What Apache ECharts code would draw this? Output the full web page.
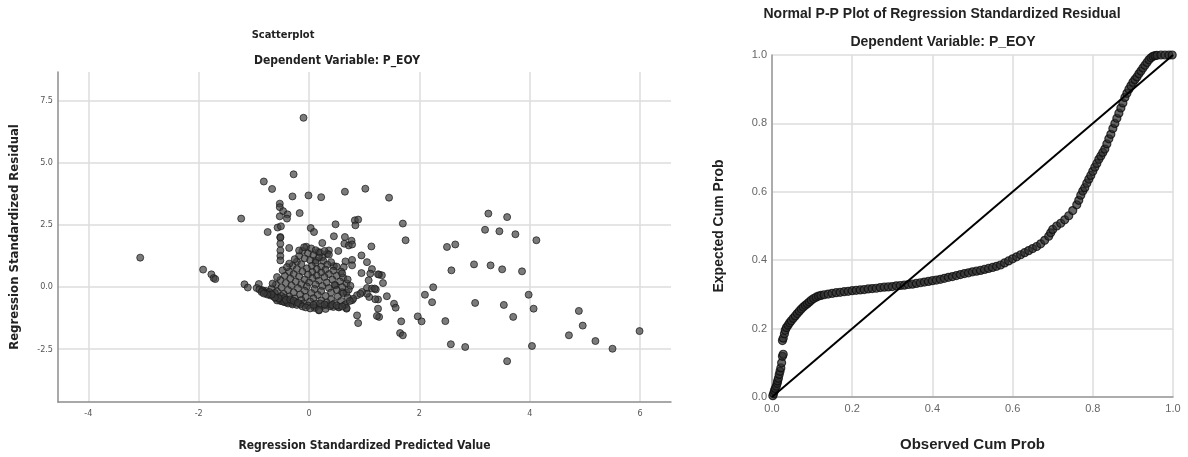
<!DOCTYPE html>
<html>
<head>
<meta charset="utf-8">
<script src="https://cdn.jsdelivr.net/npm/echarts@6/dist/echarts.min.js"></script>
<style>
  html, body { margin: 0; padding: 0; background: #fff; }
  #chart { width: 1188px; height: 457px; }
</style>
</head>
<body>
<div id="chart"></div>
<script>
// Scatterplot: [standardized predicted value, standardized residual]
const residualPoints = [
  [-3.06, 1.18], [-1.92, 0.70], [-1.77, 0.51], [-1.73, 0.36], [-1.70, 0.32],
  [-1.23, 2.75], [-1.17, 0.11], [-1.11, -0.02], [-0.91, 0.12], [-0.85, -0.13],
  [-0.10, 6.80], [-0.28, 4.53], [-0.82, 4.24], [-0.67, 3.94], [-0.30, 3.64],
  [-0.01, 3.68], [0.22, 3.61], [0.65, 3.83], [1.02, 3.95], [1.45, 3.59],
  [-0.53, 3.35], [-0.53, 3.21], [-0.47, 3.05], [-0.39, 2.92], [-0.53, 2.84],
  [-0.40, 2.75], [-0.17, 2.97], [-0.75, 2.21], [-0.57, 2.39], [-0.51, 2.44],
  [-0.52, 2.01], [0.03, 2.37], [0.09, 2.21], [0.48, 2.52], [0.83, 2.68],
  [0.89, 2.71], [0.84, 2.48], [1.70, 2.55], [1.75, 1.88], [0.45, 2.04],
  [0.65, 2.01], [0.77, 1.86], [0.64, 1.74], [0.72, 1.67], [0.78, 1.71],
  [0.24, 1.77], [0.53, 1.45], [1.13, 1.63], [0.95, 1.27], [1.05, 1.00],
  [1.14, 0.72], [1.27, 0.50], [1.34, 0.16], [1.11, 0.54], [1.08, 0.27],
  [1.05, -0.04], [1.14, -0.06], [0.66, 1.03], [0.78, 1.09], [0.63, 0.80],
  [0.78, 0.87], [0.45, 0.84], [0.95, 0.56], [0.33, 1.34], [0.24, 1.20],
  [0.12, 1.07], [0.17, 1.41], [0.36, 1.47], [-0.52, 1.98], [-0.52, 1.74],
  [-0.52, 1.47], [-0.52, 1.25], [-0.52, 1.07], [-0.36, 1.57],
  [3.25, 2.95], [3.59, 2.81], [3.19, 2.30], [3.45, 2.24], [3.74, 2.12],
  [4.12, 1.88], [2.50, 1.61], [2.65, 1.71], [2.58, 0.67], [2.99, 0.91],
  [3.29, 0.87], [3.50, 0.71], [3.86, 0.63], [1.32, 0.47], [1.41, -0.37],
  [1.54, -0.67], [1.57, -0.83], [1.67, -1.38], [1.65, -1.85], [1.70, -1.94],
  [1.97, -1.18], [2.04, -1.38], [2.10, -0.31], [2.25, -0.01], [2.23, -0.61],
  [2.47, -1.37], [2.57, -2.30], [2.83, -2.41], [3.01, -0.64], [3.53, -0.72],
  [3.70, -1.20], [3.59, -2.98], [3.98, -0.31], [4.07, -0.87], [4.04, -2.37],
  [4.89, -0.96], [4.96, -1.55], [4.71, -1.94], [5.19, -2.17], [5.50, -2.48],
  [5.99, -1.77], [0.89, -1.45], [1.21, -0.10], [1.25, -0.50], [1.25, -0.87],
  [1.27, -1.20], [1.09, -0.40], [1.05, -0.27], [1.23, -1.16], [1.20, -0.49],
  [1.19, -0.06], [1.25, 0.51], [0.87, -0.33], [0.96, -0.20], [0.78, -0.53],
  [0.80, -0.47], [0.93, -0.27], [0.12, -0.80], [0.18, -0.94], [0.32, -0.73],
  [0.44, -0.80], [0.54, -0.80], [0.64, -0.73], [0.68, -0.87], [0.48, 0.07],
  [0.60, -0.20], [0.68, -0.23], [0.87, -1.14],
  // dense cluster around the origin
  [-0.05, 1.62], [0.04, 1.55], [0.12, 1.48], [-0.12, 1.45], [0.20, 1.38],
  [0.28, 1.45], [-0.02, 1.35], [0.08, 1.28], [-0.18, 1.25], [0.36, 1.30],
  [0.18, 1.18], [-0.08, 1.15], [0.02, 1.08], [0.26, 1.05], [-0.22, 1.02],
  [0.12, 0.98], [0.40, 1.00], [-0.14, 0.92], [0.33, 0.90], [-0.30, 0.85],
  [0.05, 0.85], [0.22, 0.82], [0.50, 0.82], [-0.04, 0.75], [0.14, 0.72],
  [-0.22, 0.72], [0.30, 0.70], [0.44, 0.66], [-0.36, 0.62], [-0.12, 0.62],
  [0.06, 0.60], [0.22, 0.58], [0.58, 0.62], [-0.28, 0.52], [0.36, 0.52],
  [-0.02, 0.50], [0.14, 0.46], [-0.44, 0.45], [-0.18, 0.42], [0.50, 0.45],
  [0.28, 0.40], [0.62, 0.38], [0.06, 0.36], [-0.34, 0.34], [-0.08, 0.30],
  [0.42, 0.30], [-0.52, 0.28], [0.18, 0.26], [0.56, 0.22], [-0.24, 0.22],
  [0.32, 0.18], [-0.42, 0.16], [0.00, 0.18], [0.68, 0.15], [-0.14, 0.12],
  [0.12, 0.10], [-0.60, 0.10], [0.46, 0.08], [-0.32, 0.06], [0.24, 0.04],
  [-0.04, 0.02], [0.60, 0.00], [-0.50, -0.02], [0.36, -0.04], [-0.20, -0.05],
  [0.10, -0.08], [-0.68, -0.06], [0.50, -0.12], [-0.38, -0.12], [0.72, -0.10],
  [-0.08, -0.15], [0.22, -0.16], [-0.58, -0.18], [-0.28, -0.22], [0.04, -0.24],
  [0.40, -0.22], [-0.78, -0.16], [0.62, -0.26], [-0.46, -0.28], [-0.16, -0.30],
  [0.16, -0.32], [-0.66, -0.30], [0.30, -0.36], [-0.36, -0.38], [0.52, -0.38],
  [-0.06, -0.40], [-0.56, -0.42], [0.08, -0.45], [-0.26, -0.46], [0.70, -0.42],
  [0.40, -0.50], [-0.46, -0.50], [-0.14, -0.52], [0.22, -0.54], [-0.36, -0.56],
  [0.58, -0.56], [0.02, -0.58], [-0.52, -0.56], [-0.24, -0.60], [0.32, -0.62],
  [-0.42, -0.62], [-0.10, -0.66], [0.12, -0.68], [0.46, -0.66], [-0.30, -0.65],
  [0.66, -0.70], [-0.02, -0.74], [0.24, -0.76], [0.38, -0.78], [0.54, -0.82],
  [0.10, -0.84], [-0.16, -0.70], [0.30, -0.88], [0.68, -0.84], [0.18, -0.92],
  [-0.95, -0.04], [-0.90, -0.10], [-0.84, -0.14], [-0.80, -0.22], [-0.74, -0.26],
  [-0.70, -0.34], [-0.64, -0.38], [-0.60, -0.46], [-0.54, -0.50], [-0.48, -0.58],
  [-0.40, -0.60], [-0.33, -0.60], [-0.72, -0.20], [-0.62, -0.24], [-0.86, -0.20],
  [-0.50, -0.36], [-0.44, -0.44], [-0.58, -0.54], [-0.48, 0.67], [-0.66, 0.14],
  [-0.36, 0.94], [-0.18, 1.47], [-0.09, 1.60], [-0.40, 0.80], [-0.58, 0.40],
  [-0.26, 1.12], [0.60, 0.55], [0.70, 0.30], [0.75, 0.05], [0.74, -0.56],
  [-0.45, -0.60], [-0.38, -0.66], [-0.30, -0.70], [-0.22, -0.72], [-0.55, -0.45],
  [-0.62, -0.42], [-0.68, -0.30], [-0.76, -0.30], [-0.82, -0.26], [-0.42, -0.52],
  [-0.34, -0.50], [-0.28, -0.55], [-0.20, -0.64], [-0.12, -0.78], [-0.06, -0.82],
  [0.02, -0.86], [0.08, -0.72], [0.20, -0.66], [0.28, -0.70], [0.42, -0.72],
  [0.50, -0.74], [0.60, -0.78]
];

// Normal P-P plot points
const observedCumProb = [
  0.002, 0.004, 0.006, 0.008, 0.011, 0.013, 0.014, 0.016, 0.018, 0.020,
  0.022, 0.024, 0.026, 0.028, 0.026, 0.028, 0.031, 0.033, 0.036, 0.040,
  0.044, 0.048, 0.053, 0.058, 0.063, 0.068, 0.073, 0.078, 0.083, 0.088,
  0.093, 0.098, 0.104, 0.110, 0.116, 0.122, 0.130, 0.140, 0.150, 0.160,
  0.170, 0.180, 0.190, 0.200, 0.210, 0.220, 0.230, 0.240, 0.250, 0.260,
  0.270, 0.280, 0.290, 0.300, 0.310, 0.320, 0.330, 0.340, 0.350, 0.360,
  0.370, 0.380, 0.390, 0.400, 0.410, 0.420, 0.430, 0.440, 0.450, 0.460,
  0.470, 0.480, 0.490, 0.500, 0.510, 0.520, 0.530, 0.540, 0.550, 0.560,
  0.570, 0.580, 0.590, 0.600, 0.610, 0.620, 0.630, 0.640, 0.650, 0.660,
  0.670, 0.680, 0.690, 0.695, 0.700, 0.710, 0.720, 0.730, 0.740, 0.750,
  0.760, 0.765, 0.770, 0.775, 0.780, 0.785, 0.790, 0.795, 0.800, 0.805,
  0.810, 0.815, 0.820, 0.825, 0.830, 0.835, 0.840, 0.845, 0.850, 0.855,
  0.860, 0.865, 0.870, 0.875, 0.880, 0.885, 0.890, 0.895, 0.900, 0.905,
  0.910, 0.915, 0.920, 0.925, 0.930, 0.935, 0.940, 0.945, 0.950, 0.955,
  0.960, 0.970, 0.980, 0.990, 0.998
];
const expectedCumProb = [
  0.004, 0.010, 0.018, 0.025, 0.032, 0.040, 0.047, 0.055, 0.066, 0.075,
  0.085, 0.100, 0.119, 0.125, 0.165, 0.172, 0.185, 0.195, 0.203, 0.210,
  0.217, 0.223, 0.230, 0.237, 0.244, 0.251, 0.257, 0.263, 0.268, 0.273,
  0.278, 0.283, 0.288, 0.292, 0.295, 0.297, 0.299, 0.301, 0.303, 0.305,
  0.306, 0.308, 0.309, 0.311, 0.312, 0.313, 0.314, 0.316, 0.317, 0.318,
  0.320, 0.321, 0.322, 0.323, 0.325, 0.326, 0.327, 0.329, 0.330, 0.332,
  0.334, 0.336, 0.338, 0.340, 0.342, 0.344, 0.347, 0.350, 0.352, 0.355,
  0.358, 0.361, 0.363, 0.366, 0.368, 0.370, 0.373, 0.376, 0.379, 0.382,
  0.386, 0.392, 0.398, 0.404, 0.410, 0.416, 0.422, 0.428, 0.434, 0.440,
  0.448, 0.458, 0.470, 0.480, 0.490, 0.500, 0.508, 0.518, 0.530, 0.545,
  0.562, 0.575, 0.590, 0.602, 0.612, 0.625, 0.637, 0.648, 0.660, 0.672,
  0.683, 0.695, 0.705, 0.715, 0.725, 0.740, 0.755, 0.768, 0.785, 0.800,
  0.815, 0.830, 0.845, 0.860, 0.876, 0.888, 0.900, 0.910, 0.920, 0.928,
  0.936, 0.945, 0.953, 0.962, 0.970, 0.978, 0.986, 0.992, 0.996, 0.998,
  0.999, 1.000, 1.000, 1.000, 1.000
];
const referenceLine = [[0, 0], [1, 1]];

// Tick values
const predictedTicks = [-4, -2, 0, 2, 4, 6];
const residualTicks = [-2.5, 0, 2.5, 5, 7.5];

const narrow = "'Liberation Sans Narrow', 'DejaVu Sans Condensed', 'Liberation Sans', sans-serif";
const wide = "'Liberation Sans', Arial, sans-serif";

const chart = echarts.init(document.getElementById('chart'), null, { renderer: 'canvas' });

const scatterMarker = {
  color: 'rgba(62,62,62,0.85)',
  borderColor: 'rgba(25,25,25,0.9)',
  borderWidth: 1
};
const ppMarker = {
  color: 'rgba(45,45,45,0.9)',
  borderColor: 'rgba(10,10,10,0.95)',
  borderWidth: 1.2
};

chart.setOption({
  animation: false,
  backgroundColor: '#ffffff',
  graphic: [
    { type: 'text', x: 283, y: 35, style: { text: 'Scatterplot', font: 'bold 11px ' + narrow, fill: '#222', align: 'center', verticalAlign: 'middle' } },
    { type: 'text', x: 337, y: 61, style: { text: 'Dependent Variable: P_EOY', font: 'bold 12px ' + narrow, fill: '#222', align: 'center', verticalAlign: 'middle' } },
    { type: 'text', x: 942, y: 14, style: { text: 'Normal P-P Plot of Regression Standardized Residual', font: 'bold 14px ' + wide, fill: '#222', align: 'center', verticalAlign: 'middle' } },
    { type: 'text', x: 943, y: 42, style: { text: 'Dependent Variable: P_EOY', font: 'bold 14px ' + wide, fill: '#222', align: 'center', verticalAlign: 'middle' } }
  ],
  grid: [
    { left: 54, right: 517, top: 72, bottom: 55 },
    { left: 772, right: 15, top: 55, bottom: 50 }
  ],
  xAxis: [
    {
      gridIndex: 0, type: 'value', min: -4.55, max: 6.56,
      name: 'Regression Standardized Predicted Value', nameLocation: 'middle', nameGap: 38,
      nameTextStyle: { fontFamily: narrow, fontWeight: 'bold', fontSize: 12, color: '#222' },
      axisLine: { show: true, onZero: false, lineStyle: { color: '#8c8c8c', width: 1.5 } },
      axisTick: { show: false, customValues: predictedTicks },
      axisLabel: { customValues: predictedTicks, margin: 7, fontFamily: narrow, fontSize: 9, color: '#555', formatter: v => String(v) },
      splitLine: { show: true, lineStyle: { color: '#dcdcdc', width: 1.5 } }
    },
    {
      gridIndex: 1, type: 'value', min: 0, max: 1, interval: 0.2,
      name: 'Observed Cum Prob', nameLocation: 'middle', nameGap: 40,
      nameTextStyle: { fontFamily: wide, fontWeight: 'bold', fontSize: 15, color: '#222' },
      axisLine: { show: true, onZero: false, lineStyle: { color: '#999', width: 1.5 } },
      axisTick: { show: false },
      axisLabel: { margin: 6, fontFamily: wide, fontSize: 11, color: '#666', formatter: v => v.toFixed(1) },
      splitLine: { show: true, lineStyle: { color: '#dcdcdc', width: 1.5 } }
    }
  ],
  yAxis: [
    {
      gridIndex: 0, type: 'value', min: -4.62, max: 8.64,
      name: 'Regression Standardized Residual', nameLocation: 'middle', nameGap: 37,
      nameTextStyle: { fontFamily: narrow, fontWeight: 'bold', fontSize: 13, color: '#222' },
      axisLine: { show: true, onZero: false, lineStyle: { color: '#8c8c8c', width: 1.5 } },
      axisTick: { show: false, customValues: residualTicks },
      axisLabel: { customValues: residualTicks, margin: 5, fontFamily: narrow, fontSize: 9, color: '#555', formatter: v => v.toFixed(1) },
      splitLine: { show: true, lineStyle: { color: '#dcdcdc', width: 1.5 } }
    },
    {
      gridIndex: 1, type: 'value', min: 0, max: 1, interval: 0.2,
      name: 'Expected Cum Prob', nameLocation: 'middle', nameGap: 46,
      nameTextStyle: { fontFamily: wide, fontWeight: 'bold', fontSize: 14, color: '#222' },
      axisLine: { show: true, onZero: false, lineStyle: { color: '#999', width: 1.5 } },
      axisTick: { show: false },
      axisLabel: { margin: 5, fontFamily: wide, fontSize: 11, color: '#666', formatter: v => v.toFixed(1) },
      splitLine: { show: true, lineStyle: { color: '#dcdcdc', width: 1.5 } }
    }
  ],
  series: [
    {
      type: 'scatter', xAxisIndex: 0, yAxisIndex: 0,
      data: residualPoints, symbol: 'circle', symbolSize: 7,
      itemStyle: scatterMarker, silent: true
    },
    {
      type: 'line', xAxisIndex: 1, yAxisIndex: 1,
      data: referenceLine, showSymbol: false, symbol: 'none',
      lineStyle: { color: '#000', width: 2 }, silent: true, z: 3
    },
    {
      type: 'scatter', xAxisIndex: 1, yAxisIndex: 1,
      data: observedCumProb.map((x, i) => [x, expectedCumProb[i]]),
      symbol: 'circle', symbolSize: 8,
      itemStyle: ppMarker, silent: true, z: 2
    }
  ]
});
</script>
</body>
</html>
